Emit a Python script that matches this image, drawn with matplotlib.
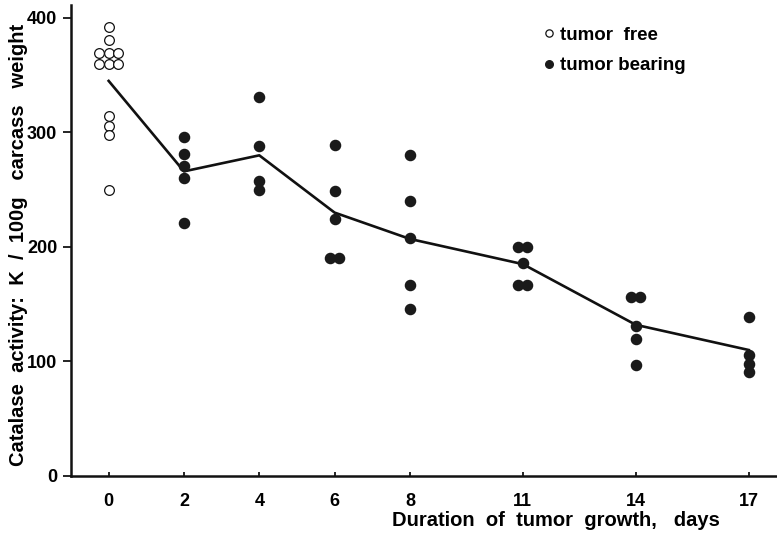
import numpy as np
import matplotlib.pyplot as plt

plt.rcParams['font.family'] = ['Liberation Sans', 'DejaVu Sans']
plt.rcParams['font.weight'] = 'bold'
plt.rcParams['axes.labelweight'] = 'bold'

# values
days = [0, 2, 4, 6, 8, 11, 14, 17]
free_vals = [392, 381, 369, 369, 369, 360, 360, 360, 314, 306, 298, 250]
bearing = {
    2: [296, 281, 271, 260, 221],
    4: [331, 288, 258, 250],
    6: [289, 249, 224, 190, 190],
    8: [280, 240, 208, 167, 146],
    11: [200, 200, 186, 167, 167],
    14: [156, 156, 131, 120, 97],
    17: [139, 106, 98, 91],
}
mean_line = [345, 266, 280, 230, 207, 185, 132, 110]


def spread(day, vals, step):
    # put equal values side by side like in the original
    xs = []
    for i, v in enumerate(vals):
        n = vals.count(v)
        k = vals[:i].count(v)
        xs.append(day + (k - (n - 1) / 2) * step)
    return xs


fig = plt.figure(figsize=(7.77, 5.33), dpi=100)
ax = fig.add_axes([0.0914, 0.107, 0.9086, 0.883])

ax.plot(days, mean_line, color='#111111', lw=1.9, zorder=2)

ax.plot(spread(0, free_vals, 0.26), free_vals, 'o', ms=7, mfc='white',
        mec='#111111', mew=0.9, ls='none', zorder=3, label='tumor  free')
bx, by = [], []
for d in days[1:]:
    bx += spread(d, bearing[d], 0.24)
    by += bearing[d]
ax.plot(bx, by, 'o', ms=7.3, mfc='#1a1a1a', mec='#1a1a1a', ls='none',
        zorder=3, label='tumor bearing')

ax.set_xlim(-1.0, 17.75)
ax.set_ylim(0, 411)
ax.set_xticks(days)
ax.set_yticks([0, 100, 200, 300, 400])
ax.tick_params(axis='x', direction='in', length=3, width=1.2, pad=12, labelsize=13)
ax.tick_params(axis='y', direction='out', length=6, width=1.2, pad=4, labelsize=13)

for s in ['top', 'right']:
    ax.spines[s].set_visible(False)
for s in ['left', 'bottom']:
    ax.spines[s].set_linewidth(1.8)
    ax.spines[s].set_color('#111111')

ax.set_ylabel('Catalase  activity:  K  /  100g   carcass   weight', fontsize=14.5)
ax.yaxis.set_label_coords(-0.061, 0.49)
ax.set_xlabel('Duration  of  tumor  growth,   days', fontsize=14.5)
ax.xaxis.set_label_coords(0.687, -0.074)

ax.legend(loc='upper left', bbox_to_anchor=(0.64, 0.99), frameon=False,
          handletextpad=0.1, labelspacing=0.7, fontsize=13.5, markerscale=0.75,
          handlelength=1.0)

fig.savefig('out.png', dpi=100)
